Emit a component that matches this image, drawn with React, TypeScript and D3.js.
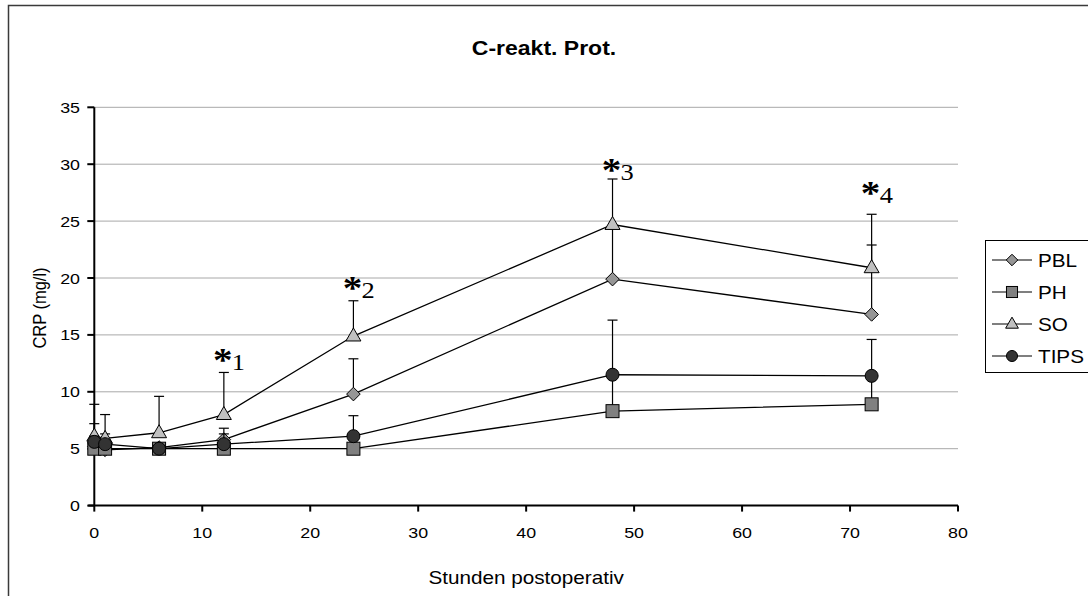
import React from 'react';
import * as d3 from 'd3';

// Sampling times (hours after surgery)
const hours = [0, 1, 6, 12, 24, 48, 72];

// Group means and upper error (SD) per time point, CRP in mg/l
const seriesNames = ['PBL', 'PH', 'SO', 'TIPS'];
const pblMean = [5.2, 4.9, 5.1, 5.8, 9.8, 19.9, 16.8];
const pblErr = [2.0, 1.4, 0.3, 1.0, 3.1, 4.5, 6.1];
const phMean = [5.0, 5.0, 5.0, 5.0, 5.0, 8.3, 8.9];
const phErr = [0.3, 0.3, 0.3, 0.3, 0.3, 3.1, 2.4];
const soMean = [6.1, 5.9, 6.4, 8.0, 14.9, 24.7, 20.9];
const soErr = [2.8, 2.1, 3.2, 3.7, 3.1, 4.0, 4.7];
const tipsMean = [5.6, 5.4, 5.0, 5.4, 6.1, 11.5, 11.4];
const tipsErr = [0.5, 0.3, 0.3, 0.9, 1.8, 4.8, 3.2];

// Axis ticks
const xTicks = [0, 10, 20, 30, 40, 50, 60, 70, 80];
const yTicks = [0, 5, 10, 15, 20, 25, 30, 35];

// Significance marks: hour, level (mg/l) of the subscript baseline, index
const sigHours = [12, 24, 48, 72];
const sigLevels = [11.9, 18.2, 28.6, 26.6];
const sigLabels = ['1', '2', '3', '4'];

const title = 'C-reakt. Prot.';
const xTitle = 'Stunden postoperativ';
const yTitle = 'CRP (mg/l)';

type Shape = 'diamond' | 'square' | 'triangle' | 'circle';
const shapes: Shape[] = ['diamond', 'square', 'triangle', 'circle'];
const fills = ['#969696', '#808080', '#c0c0c0', '#333333'];
const means = [pblMean, phMean, soMean, tipsMean];
const errs = [pblErr, phErr, soErr, tipsErr];

const SX = 1.15; // horizontal text stretch
const SANS = "'Liberation Sans', Arial, sans-serif";
const SERIF = "'Liberation Serif', 'Times New Roman', serif";

const x = d3.scaleLinear().domain([0, 80]).range([94.3, 958]);
const y = d3.scaleLinear().domain([0, 35]).range([505.6, 107.3]);

function Marker({ shape, cx, cy, fill, s = 1 }: { shape: Shape; cx: number; cy: number; fill: string; s?: number }) {
  const common = { fill, stroke: '#000', strokeWidth: 1 };
  if (shape === 'circle') return <circle cx={cx} cy={cy} r={6.5 * s} {...common} />;
  if (shape === 'square') {
    const h = 6.5 * s;
    return <rect x={cx - h} y={cy - h} width={2 * h} height={2 * h} {...common} />;
  }
  if (shape === 'diamond') {
    const h = 6.8 * s;
    return <path d={`M${cx},${cy - h}L${cx + h},${cy}L${cx},${cy + h}L${cx - h},${cy}Z`} {...common} />;
  }
  const w = 7.5 * s;
  const hh = 13 * s;
  return <path d={`M${cx},${cy - hh * 0.62}L${cx + w},${cy + hh * 0.38}L${cx - w},${cy + hh * 0.38}Z`} {...common} />;
}

function T({ x: tx, y: ty, size, anchor = 'start', weight = 'normal', family = SANS, rotate = false, children }: any) {
  return (
    <text
      transform={`translate(${tx},${ty}) scale(${SX},1)${rotate ? ' rotate(-90)' : ''}`}
      fontSize={size}
      fontFamily={family}
      fontWeight={weight}
      textAnchor={anchor}
      fill="#000"
    >
      {children}
    </text>
  );
}

export default function App() {
  const line = d3
    .line<number>()
    .x((_, i) => x(hours[i]))
    .y((v) => y(v));

  return (
    <svg width={1088} height={596} style={{ position: 'absolute', left: 0, top: 0, background: '#fff' }}>
      {/* chart frame */}
      <rect x={8.5} y={5.5} width={1200} height={800} fill="#fff" stroke="#3a3a3a" strokeWidth={1.5} />

      <T x={544} y={55} size={20} weight="bold" anchor="middle">{title}</T>

      {/* gridlines */}
      {yTicks.filter((t) => t > 0).map((t) => (
        <line key={t} x1={x(0)} x2={x(80)} y1={y(t)} y2={y(t)} stroke="#a8a8a8" strokeWidth={1} />
      ))}

      {/* axes */}
      <line x1={x(0)} x2={x(0)} y1={y(35)} y2={y(0)} stroke="#000" strokeWidth={2} />
      <line x1={x(0) - 6} x2={x(80)} y1={y(0)} y2={y(0)} stroke="#000" strokeWidth={2} />
      {yTicks.map((t) => (
        <g key={t}>
          <line x1={x(0) - 7} x2={x(0)} y1={y(t)} y2={y(t)} stroke="#000" strokeWidth={2} />
          <T x={80} y={y(t) + 5.5} size={15.5} anchor="end">{t}</T>
        </g>
      ))}
      {xTicks.map((t) => (
        <g key={t}>
          <line x1={x(t)} x2={x(t)} y1={y(0)} y2={y(0) + 6} stroke="#000" strokeWidth={2} />
          <T x={x(t)} y={537.5} size={15.5} anchor="middle">{t}</T>
        </g>
      ))}

      <T x={(x(0) + x(80)) / 2} y={584} size={18} anchor="middle">{xTitle}</T>
      <T x={46} y={308} size={16.5} anchor="middle" rotate>{yTitle}</T>

      {/* series: error bars, line, markers */}
      {seriesNames.map((name, si) => (
        <g key={name}>
          {means[si].map((m, i) => {
            const top = m + errs[si][i];
            const cx = x(hours[i]);
            return (
              <g key={i}>
                <line x1={cx} x2={cx} y1={y(m)} y2={y(top)} stroke="#000" strokeWidth={1.2} />
                <line x1={cx - 5} x2={cx + 5} y1={y(top)} y2={y(top)} stroke="#000" strokeWidth={1.2} />
              </g>
            );
          })}
          <path d={line(means[si]) || ''} fill="none" stroke="#000" strokeWidth={1.3} />
          {means[si].map((m, i) => (
            <Marker key={i} shape={shapes[si]} cx={x(hours[i])} cy={y(m)} fill={fills[si]} />
          ))}
        </g>
      ))}

      {/* significance marks */}
      {sigHours.map((h, i) => (
        <g key={h}>
          <T x={x(h) - 1} y={y(sigLevels[i]) + 1} size={34} weight="bold" family={SERIF} anchor="middle">*</T>
          <T x={x(h) + 8} y={y(sigLevels[i])} size={23} family={SERIF}>{sigLabels[i]}</T>
        </g>
      ))}

      {/* legend */}
      <rect x={985.5} y={240.5} width={200} height={132} fill="#fff" stroke="#000" strokeWidth={1} />
      {seriesNames.map((name, i) => {
        const ly = 260 + i * 32;
        return (
          <g key={name}>
            <line x1={992} x2={1032} y1={ly} y2={ly} stroke="#000" strokeWidth={1.2} />
            <Marker shape={shapes[i]} cx={1012} cy={ly} fill={fills[i]} s={0.85} />
            <T x={1038} y={ly + 6.5} size={18}>{name}</T>
          </g>
        );
      })}
    </svg>
  );
}
